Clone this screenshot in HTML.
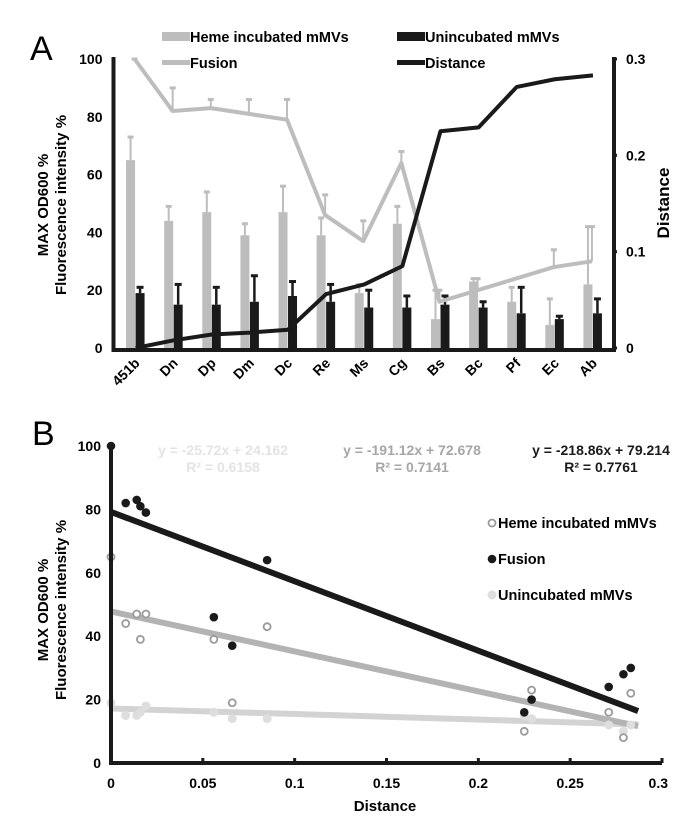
<!DOCTYPE html>
<html><head><meta charset="utf-8">
<style>
html,body{margin:0;padding:0;background:#fff;}
svg{display:block;font-family:"Liberation Sans",Arial,sans-serif;}
text{font-weight:bold;}
</style></head>
<body>
<svg id="root" width="681" height="819" viewBox="0 0 681 819" xmlns="http://www.w3.org/2000/svg">
<g id="chartA"></g>
<g id="chartB"></g>
</svg>
<script>
// ---------- Panel A data ----------
const categoriesA = ["451b","Dn","Dp","Dm","Dc","Re","Ms","Cg","Bs","Bc","Pf","Ec","Ab"];
const hemeVals = [65,44,47,39,47,39,19,43,10,23,16,8,22];
const hemeErrTop = [73,49,54,43,56,45,22,49,20,24,21,17,42];
const unincVals = [19,15,15,16,18,16,14,14,15,14,12,10,12];
const unincErrTop = [21,22,21,25,23,22,20,18,18,16,21,11,17];
const fusionVals = [100,82,83,81,79,46,37,64,16,20,24,28,30];
const fusionErrTop = [100,90,86,86,86,53,44,68,20,24,24,34,42];
const distanceVals = [0,0.008,0.014,0.016,0.019,0.056,0.066,0.085,0.225,0.229,0.271,0.279,0.283];
const leftTicksA = [0,20,40,60,80,100];
const rightTicksA = [0,0.1,0.2,0.3];

// ---------- Panel B data ----------
const xTicksB = [0,0.05,0.1,0.15,0.2,0.25,0.3];
const xTickLabelsB = ["0","0.05","0.1","0.15","0.2","0.25","0.3"];
const yTicksB = [0,20,40,60,80,100];
const fitIntercepts = [79.2,47.8,17.2]; // fusion, heme, uninc (drawn lines)
const fitSlopes = [-218.86,-126,-17.5];
const equationTexts = ["y = -25.72x + 24.162","y = -191.12x + 72.678","y = -218.86x + 79.214"];
const r2Texts = ["R² = 0.6158","R² = 0.7141","R² = 0.7761"];

const NS="http://www.w3.org/2000/svg";
function mk(parent,tag,attrs,txt){const e=document.createElementNS(NS,tag);for(const k in attrs)e.setAttribute(k,attrs[k]);if(txt!==undefined)e.textContent=txt;parent.appendChild(e);return e;}

const GRAY="#bdbdbd", BLACK="#1a1a1a", LIGHT="#dedede", MID="#9a9a9a";

// ---------- Panel A ----------
const A=document.getElementById('chartA');
const aL=116.5,aR=612,aT=59,aB=348;
const step=(aR-aL)/categoriesA.length;
const cx=i=>aL+step*(i+0.5);
const yA=v=>aB-(v/100)*(aB-aT);
const yD=v=>aB-(v/0.3)*(aB-aT);

let t=mk(A,'text',{x:30,y:60,'font-size':34,style:'font-weight:normal'},'A');


categoriesA.forEach((c,i)=>{
  const x=cx(i);
  let g=mk(A,'line',{x1:x-5,x2:x-5,y1:yA(hemeVals[i]),y2:yA(hemeErrTop[i]),stroke:GRAY,'stroke-width':2});
  
  g=mk(A,'line',{x1:x-8,x2:x-2,y1:yA(hemeErrTop[i]),y2:yA(hemeErrTop[i]),stroke:GRAY,'stroke-width':3});
  
  let b=mk(A,'rect',{x:x-9.5,y:yA(hemeVals[i]),width:9,height:aB-yA(hemeVals[i]),fill:GRAY});
  
  g=mk(A,'line',{x1:x+4.5,x2:x+4.5,y1:yA(unincVals[i]),y2:yA(unincErrTop[i]),stroke:BLACK,'stroke-width':2.5});
  
  g=mk(A,'line',{x1:x+1,x2:x+8,y1:yA(unincErrTop[i]),y2:yA(unincErrTop[i]),stroke:BLACK,'stroke-width':3});
  
  b=mk(A,'rect',{x:x,y:yA(unincVals[i]),width:9,height:aB-yA(unincVals[i]),fill:BLACK});
  
  g=mk(A,'line',{x1:x-1,x2:x-1,y1:yA(fusionVals[i]),y2:yA(fusionErrTop[i]),stroke:GRAY,'stroke-width':2});
  
  g=mk(A,'line',{x1:x-4,x2:x+2,y1:yA(fusionErrTop[i]),y2:yA(fusionErrTop[i]),stroke:GRAY,'stroke-width':3});
  
  const lab=mk(A,'text',{x:0,y:0,'font-size':14,'text-anchor':'end',transform:`translate(${x+5},${aB+16}) rotate(-45)`},c);
  
});
let pl=mk(A,'polyline',{points:fusionVals.map((v,i)=>`${cx(i)-1},${yA(v)}`).join(' '),fill:'none',stroke:GRAY,'stroke-width':4,'stroke-linejoin':'round'});

pl=mk(A,'polyline',{points:distanceVals.map((v,i)=>`${cx(i)},${yD(v)}`).join(' '),fill:'none',stroke:BLACK,'stroke-width':4,'stroke-linejoin':'round'});


let ax=mk(A,'path',{d:`M${aL-3},${aT-2} V${aB+2} H${aR+2} V${aT-2}`,fill:'none',stroke:BLACK,'stroke-width':4});

leftTicksA.forEach(v=>{
  const l=mk(A,'text',{x:aL-14,y:yA(v)+5,'font-size':14,'text-anchor':'end'},v);
  
});
rightTicksA.forEach(v=>{
  const tk=mk(A,'line',{x1:aR,x2:aR+5,y1:yD(v),y2:yD(v),stroke:BLACK,'stroke-width':3});
  
  const l=mk(A,'text',{x:aR+14,y:yD(v)+5,'font-size':14},v===0?'0':String(v));
  
});
let yt=mk(A,'text',{transform:'translate(48,205) rotate(-90)','text-anchor':'middle','font-size':15},'MAX OD600 %');

yt=mk(A,'text',{transform:'translate(66,205) rotate(-90)','text-anchor':'middle','font-size':15},'Fluorescence intensity %');

yt=mk(A,'text',{transform:'translate(669,203) rotate(-90)','text-anchor':'middle','font-size':17},'Distance');

const legA=[["Heme incubated mMVs",GRAY,162,37,'rect'],["Unincubated mMVs",BLACK,397,37,'rect'],["Fusion",GRAY,162,63,'line'],["Distance",BLACK,397,63,'line']];
legA.forEach(d=>{
  let s;
  if(d[4]==='rect') s=mk(A,'rect',{x:d[2],y:d[3]-5,width:28,height:9,fill:d[1]});
  else s=mk(A,'rect',{x:d[2],y:d[3]-3,width:28,height:5,fill:d[1]});
  
  const tx=mk(A,'text',{x:d[2]+28,y:d[3]+5,'font-size':14.5},d[0]);
  
});

// ---------- Panel B ----------
const B=document.getElementById('chartB');
const bL=111,bR=662,bT=446,bB=763;
const xB=v=>bL+(v/0.3)*(bR-bL);
const yB=v=>bB-(v/100)*(bB-bT);
t=mk(B,'text',{x:32,y:445,'font-size':34,style:'font-weight:normal'},'B');


const fitColors=[BLACK,"#b3b3b3","#d3d3d3"];
const fitNames=['fusion-fit-line','heme-fit-line','uninc-fit-line'];
[2,1,0].forEach(k=>{
  const x2=0.287;
  const l=mk(B,'line',{x1:xB(0),y1:yB(fitIntercepts[k]),x2:xB(x2),y2:yB(fitIntercepts[k]+fitSlopes[k]*x2),stroke:fitColors[k],'stroke-width':6});
  
});
distanceVals.forEach((d,i)=>{
  let c=mk(B,'circle',{cx:xB(d),cy:yB(unincVals[i]),r:4.5,fill:LIGHT});
  
  c=mk(B,'circle',{cx:xB(d),cy:yB(hemeVals[i]),r:3.5,fill:'#fff',stroke:MID,'stroke-width':1.8});
  
  c=mk(B,'circle',{cx:xB(d),cy:yB(fusionVals[i]),r:4.3,fill:BLACK});
  
});
ax=mk(B,'path',{d:`M${bL},${bT} V${bB} H${bR}`,fill:'none',stroke:BLACK,'stroke-width':4});

xTicksB.forEach((v,i)=>{
  const tk=mk(B,'line',{x1:xB(v),x2:xB(v),y1:bB,y2:bB-5,stroke:BLACK,'stroke-width':3});
  
  const l=mk(B,'text',{x:xB(v),y:bB+25,'font-size':14,'text-anchor':i===6?'end':'middle',dx:i===6?6:0},xTickLabelsB[i]);
  
});
yTicksB.forEach(v=>{
  const l=mk(B,'text',{x:bL-10,y:yB(v)+5,'font-size':14,'text-anchor':'end'},v);
  
});
let xt=mk(B,'text',{x:385,y:811,'font-size':15,'text-anchor':'middle'},'Distance');

yt=mk(B,'text',{transform:'translate(48,610) rotate(-90)','text-anchor':'middle','font-size':15},'MAX OD600 %');

yt=mk(B,'text',{transform:'translate(66,610) rotate(-90)','text-anchor':'middle','font-size':15},'Fluorescence intensity %');

const eqX=[223,412,601], eqCol=["#e3e3e3","#a6a6a6",BLACK];
eqX.forEach((x,k)=>{
  let e=mk(B,'text',{x:x,y:455,'font-size':14,'text-anchor':'middle',fill:eqCol[k]},equationTexts[k]);
  
  e=mk(B,'text',{x:x,y:472,'font-size':14,'text-anchor':'middle',fill:eqCol[k]},r2Texts[k]);
  
});
const legB=[["Heme incubated mMVs",523,'o'],["Fusion",559,'f'],["Unincubated mMVs",595,'u']];
legB.forEach(d=>{
  let m;
  if(d[2]==='o') m=mk(B,'circle',{cx:492,cy:d[1],r:3.5,fill:'#fff',stroke:MID,'stroke-width':1.8});
  else if(d[2]==='f') m=mk(B,'circle',{cx:492,cy:d[1],r:4.3,fill:BLACK});
  else m=mk(B,'circle',{cx:492,cy:d[1],r:4.5,fill:LIGHT});
  
  const tx=mk(B,'text',{x:498,y:d[1]+5,'font-size':14.5},d[0]);
  
});
</script>
</body></html>
